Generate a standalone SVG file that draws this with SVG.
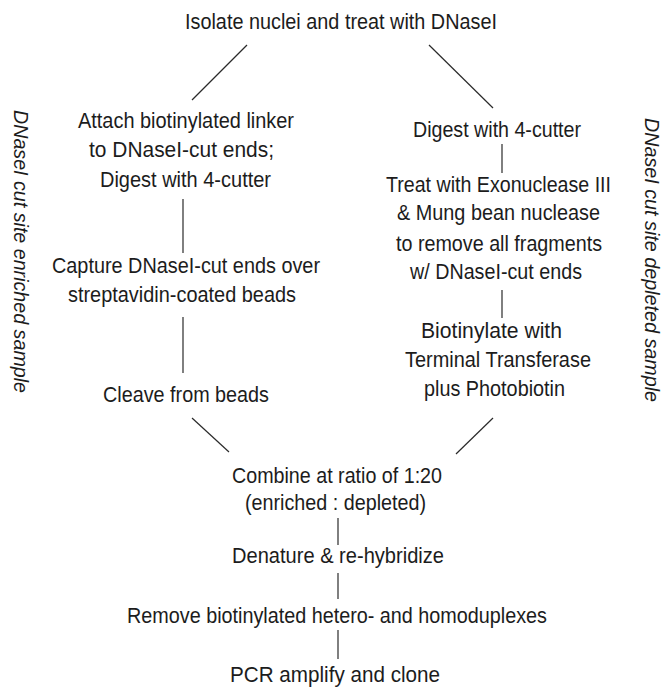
<svg xmlns="http://www.w3.org/2000/svg" width="665" height="688" viewBox="0 0 665 688">
<style>
  text { font-family: "Liberation Sans Narrow", "Arial Narrow", "Liberation Sans", Arial, sans-serif; font-size: 22px; fill: #1c1c1c; }
  .side { font-style: italic; font-size: 21px; }
  .conn line { stroke: #2a2a2a; stroke-width: 1.2; }
</style>
<rect width="665" height="688" fill="#ffffff"/>
<g id="conn" class="conn">
  <line x1="247" y1="45" x2="192" y2="100"/>
  <line x1="429" y1="45" x2="493" y2="108"/>
  <line x1="183" y1="199" x2="183" y2="253"/>
  <line x1="183" y1="317" x2="183" y2="373"/>
  <line x1="502" y1="144" x2="502" y2="173"/>
  <line x1="502" y1="290" x2="502" y2="318"/>
  <line x1="192" y1="418" x2="229" y2="452"/>
  <line x1="493" y1="418" x2="456" y2="454"/>
  <line x1="338" y1="518" x2="338" y2="545"/>
  <line x1="338" y1="573" x2="338" y2="599"/>
  <line x1="338" y1="630" x2="338" y2="659"/>
</g>
<g id="n-isolate"><text x="185" y="29" textLength="312" lengthAdjust="spacingAndGlyphs">Isolate nuclei and treat with DNaseI</text></g>
<g id="n-attach">
  <text x="78" y="128" textLength="216" lengthAdjust="spacingAndGlyphs">Attach biotinylated linker</text>
  <text x="89" y="157" textLength="185" lengthAdjust="spacingAndGlyphs">to DNaseI-cut ends;</text>
  <text x="100" y="187" textLength="171" lengthAdjust="spacingAndGlyphs">Digest with 4-cutter</text>
</g>
<g id="n-capture">
  <text x="52" y="273" textLength="268" lengthAdjust="spacingAndGlyphs">Capture DNaseI-cut ends over</text>
  <text x="68" y="302" textLength="228" lengthAdjust="spacingAndGlyphs">streptavidin-coated beads</text>
</g>
<g id="n-cleave"><text x="103" y="402" textLength="166" lengthAdjust="spacingAndGlyphs">Cleave from beads</text></g>
<g id="n-digest"><text x="413" y="137" textLength="168" lengthAdjust="spacingAndGlyphs">Digest with 4-cutter</text></g>
<g id="n-treat">
  <text x="386" y="192" textLength="225" lengthAdjust="spacingAndGlyphs">Treat with Exonuclease III</text>
  <text x="397" y="220" textLength="203" lengthAdjust="spacingAndGlyphs">&amp; Mung bean nuclease</text>
  <text x="396" y="251" textLength="206" lengthAdjust="spacingAndGlyphs">to remove all fragments</text>
  <text x="410" y="279" textLength="172" lengthAdjust="spacingAndGlyphs">w/ DNaseI-cut ends</text>
</g>
<g id="n-biotinylate">
  <text x="421" y="338" textLength="141" lengthAdjust="spacingAndGlyphs">Biotinylate with</text>
  <text x="405" y="367" textLength="186" lengthAdjust="spacingAndGlyphs">Terminal Transferase</text>
  <text x="424" y="396" textLength="141" lengthAdjust="spacingAndGlyphs">plus Photobiotin</text>
</g>
<g id="n-combine">
  <text x="232" y="483" textLength="210" lengthAdjust="spacingAndGlyphs">Combine at ratio of 1:20</text>
  <text x="245" y="510" textLength="181" lengthAdjust="spacingAndGlyphs">(enriched : depleted)</text>
</g>
<g id="n-denature"><text x="232" y="563" textLength="212" lengthAdjust="spacingAndGlyphs">Denature &amp; re-hybridize</text></g>
<g id="n-remove"><text x="127" y="623" textLength="420" lengthAdjust="spacingAndGlyphs">Remove biotinylated hetero- and homoduplexes</text></g>
<g id="n-pcr"><text x="230" y="682" textLength="210" lengthAdjust="spacingAndGlyphs">PCR amplify and clone</text></g>
<g id="label-enriched"><text class="side" transform="translate(14,110) rotate(90)" x="0" y="0" textLength="283" lengthAdjust="spacingAndGlyphs">DNaseI cut site enriched sample</text></g>
<g id="label-depleted"><text class="side" transform="translate(645,118) rotate(90)" x="0" y="0" textLength="284" lengthAdjust="spacingAndGlyphs">DNaseI cut site depleted sample</text></g>
</svg>
